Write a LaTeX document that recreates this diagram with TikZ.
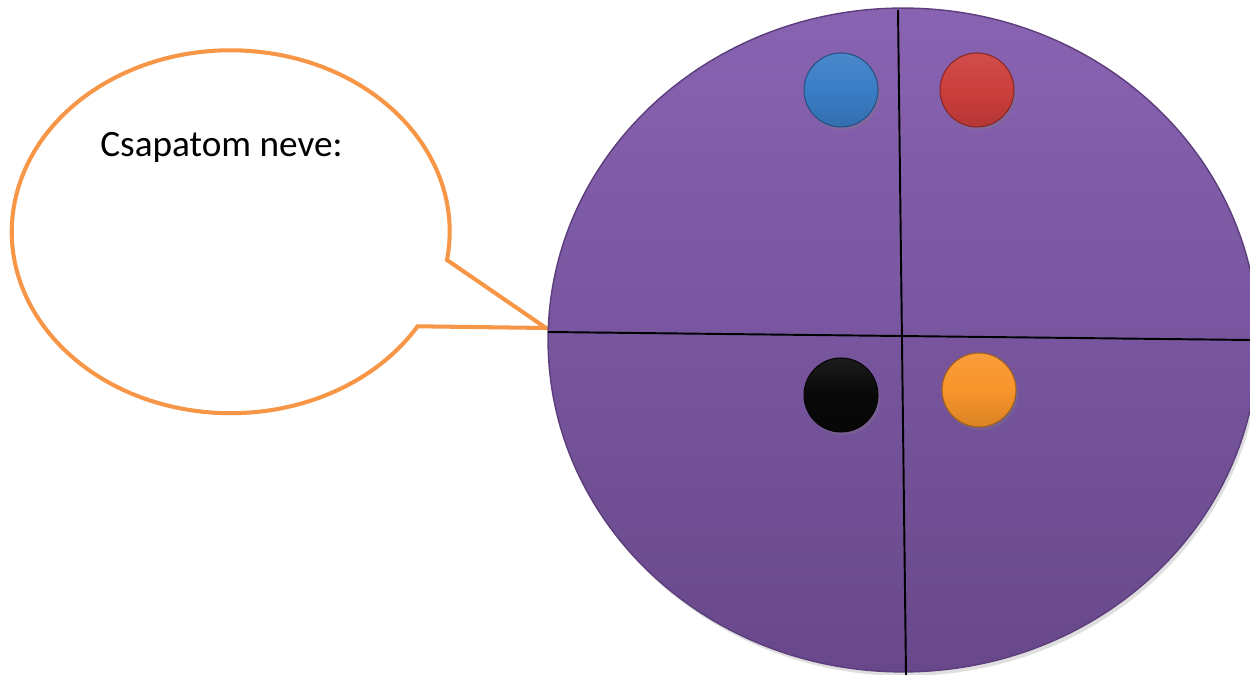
\documentclass[tikz,border=0pt]{standalone}
\usepackage{fontspec}
\setmainfont{Carlito}
\usetikzlibrary{shapes.geometric,shadows}
\definecolor{bubbleorange}{RGB}{247,150,70}
\definecolor{purpletop}{RGB}{136,99,178}
\definecolor{purplebot}{RGB}{104,72,138}
\definecolor{purpleedge}{RGB}{92,62,124}
\tikzset{
  disc/.style={ellipse, minimum width=14.2cm, minimum height=13.28cm, inner sep=0pt,
    shading=axis, top color=purpletop, bottom color=purplebot, draw=purpleedge, line width=0.8pt,
    drop shadow={opacity=0.25, shadow xshift=0.5mm, shadow yshift=-0.8mm}},
  divider/.style={black, line width=1.1pt},
  ball/.style={circle, minimum size=1.48cm, inner sep=0pt, shading=axis,
    top color=#1!92!white, bottom color=#1!88!black, middle color=#1,
    draw=#1!65!black, line width=0.6pt,
    drop shadow={opacity=0.3, shadow xshift=0.4mm, shadow yshift=-0.6mm}},
  bubble/.style={draw=bubbleorange, line width=2.3pt, fill=white, line join=miter},
  label/.style={anchor=base west, inner sep=0pt, font=\fontsize{21.2}{25}\selectfont}
}
\definecolor{ballblue}{RGB}{58,125,198}
\definecolor{ballred}{RGB}{204,62,60}
\definecolor{ballorange}{RGB}{248,148,42}
\definecolor{ballblack}{RGB}{8,8,8}
\begin{document}
\begin{tikzpicture}[x=0.02cm,y=0.02cm]
\useasboundingbox (0,0) rectangle (1250,675);
% speech bubble
\coordinate (tailA) at (447,415);
\coordinate (tip) at (546,347);
\draw[bubble] (tailA) arc[start angle=-8.95, end angle=328.6, x radius=4.38cm, y radius=3.63cm] -- (tip) -- cycle;
\node[label] (name) at (100,518) {Csapatom neve:};
% disc
\node[disc] (board) at (903,335) {};
\coordinate (hl) at (548,343);
\coordinate (hr) at (1250,335);
\coordinate (vt) at (898,665);
\coordinate (vb) at (906,0);
\draw[divider] (hl) -- (hr);
\draw[divider] (vt) -- (vb);
% balls
\node[ball=ballblue] (blue) at (841,585) {};
\node[ball=ballred] (red) at (977,585) {};
\node[ball=ballblack] (black) at (841,280) {};
\node[ball=ballorange] (orange) at (979,285) {};
\end{tikzpicture}
\end{document}
